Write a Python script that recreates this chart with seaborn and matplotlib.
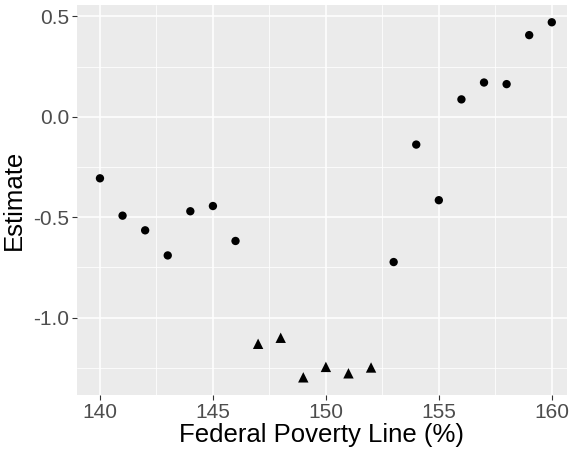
import matplotlib
matplotlib.use("Agg")
import matplotlib.pyplot as plt
import seaborn as sns
import pandas as pd
from matplotlib.ticker import MultipleLocator

fpl = [140, 141, 142, 143, 144, 145, 146, 147, 148, 149, 150,
       151, 152, 153, 154, 155, 156, 157, 158, 159, 160]
estimate = [-0.306, -0.492, -0.565, -0.690, -0.470, -0.444, -0.618,
            -1.13, -1.10, -1.297, -1.245, -1.277, -1.248,
            -0.723, -0.138, -0.415, 0.087, 0.171, 0.163, 0.407, 0.471]
group = ["circle"] * 7 + ["triangle"] * 6 + ["circle"] * 8

df = pd.DataFrame({"fpl": fpl, "estimate": estimate, "group": group})

sns.set_theme(style="darkgrid")
plt.rcParams["font.family"] = ["Liberation Sans", "DejaVu Sans"]

fig = plt.figure(figsize=(5.7, 4.51), dpi=100)
ax = fig.add_axes([76.7 / 570, 1 - 395 / 451, (566.7 - 76.7) / 570, (395 - 5) / 451])
ax.set_facecolor("#EBEBEB")

sns.scatterplot(data=df, x="fpl", y="estimate", style="group", size="group",
                markers={"circle": "o", "triangle": "^"},
                sizes={"circle": 36, "triangle": 56},
                color="black", edgecolor="none", linewidth=0,
                legend=False, ax=ax, zorder=3)

ax.set_xlim(138.97, 160.66)
ax.set_ylim(-1.385, 0.557)
ax.xaxis.set_major_locator(MultipleLocator(5))
ax.xaxis.set_minor_locator(MultipleLocator(2.5))
ax.yaxis.set_major_locator(MultipleLocator(0.5))
ax.yaxis.set_minor_locator(MultipleLocator(0.25))
ax.yaxis.set_major_formatter(plt.FuncFormatter(lambda v, p: f"{v:.1f}"))

ax.grid(which="major", color="white", linewidth=1.1)
ax.grid(which="minor", color="white", linewidth=0.55)
ax.set_axisbelow(True)
for sp in ax.spines.values():
    sp.set_visible(False)

ax.tick_params(which="major", length=3.5, width=0.8, color="#333333",
               labelsize=15, labelcolor="#4D4D4D", pad=2, left=True, bottom=True)
ax.tick_params(which="minor", length=0)

ax.set_xlabel("Federal Poverty Line (%)", fontsize=18.5, color="black", labelpad=1)
ax.set_ylabel("Estimate", fontsize=18.5, color="black", labelpad=5)

fig.savefig("out.png", dpi=100)
